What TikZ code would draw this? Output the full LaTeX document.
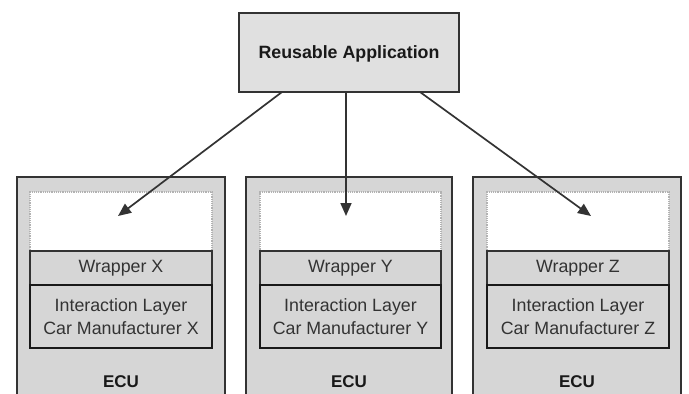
\documentclass[tikz,border=0pt]{standalone}
\usepackage{fontspec}
\setmainfont{Liberation Sans}
\usetikzlibrary{arrows.meta}
\definecolor{ecufill}{HTML}{D6D6D6}
\definecolor{topfill}{HTML}{E0E0E0}
\definecolor{edge}{HTML}{333333}
\tikzset{
  base/.style={rectangle, inner sep=0pt, outer sep=0pt, anchor=north},
  ecubox/.style={base, draw=edge, fill=ecufill, line width=2.2pt, minimum height=240pt},
  topbox/.style={base, draw=edge, fill=topfill, line width=2.6pt, minimum width=220pt, minimum height=79pt,
     font=\fontsize{17.8}{20}\selectfont\bfseries, text=black!90, text depth=1pt},
  slotbox/.style={base, draw=black!30, fill=white, densely dotted, line width=1.2pt, minimum height=59pt},
  wrapbox/.style={base, draw=edge, fill=ecufill, line width=1.6pt, minimum height=34pt,
     font=\fontsize{17.8}{20}\selectfont, text=black!80},
  ilbox/.style={base, draw=black!90, fill=ecufill, line width=2.3pt, minimum height=63pt, align=center,
     font=\fontsize{17.8}{23}\selectfont, text=black!80},
  ecutext/.style={font=\fontsize{17}{20}\selectfont\bfseries, text=black!90, inner sep=0pt},
  arr/.style={draw=edge, line width=1.7pt, -{Triangle[length=13pt,width=11pt]}}
}
\begin{document}
\begin{tikzpicture}[x=1pt,y=-1pt]
\useasboundingbox (0,0) rectangle (689,394);
\clip (0,0) rectangle (689,394);
\fill[white] (0,0) rectangle (689,394);
% ECU boxes
\node[ecubox, minimum width=208pt] (ecu1) at (121,177) {};
\node[ecubox, minimum width=206pt] (ecu2) at (349,177) {};
\node[ecubox, minimum width=208pt] (ecu3) at (577,177) {};
% slots
\node[slotbox, minimum width=182pt] (slot1) at (121,192) {};
\node[slotbox, minimum width=181pt] (slot2) at (350.5,192) {};
\node[slotbox, minimum width=182pt] (slot3) at (578,192) {};
% wrappers
\node[wrapbox, minimum width=182pt] (wrap1) at (121,251) {Wrapper X};
\node[wrapbox, minimum width=181pt] (wrap2) at (350.5,251) {Wrapper Y};
\node[wrapbox, minimum width=182pt] (wrap3) at (578,251) {Wrapper Z};
% interaction layers
\node[ilbox, minimum width=182pt] (il1) at (121,285) {Interaction Layer\\Car Manufacturer X};
\node[ilbox, minimum width=181pt] (il2) at (350.5,285) {Interaction Layer\\Car Manufacturer Y};
\node[ilbox, minimum width=182pt] (il3) at (578,285) {Interaction Layer\\Car Manufacturer Z};
% ECU labels
\node[ecutext] (e1) at (121,382) {ECU};
\node[ecutext] (e2) at (349,382) {ECU};
\node[ecutext] (e3) at (577,382) {ECU};
% top
\node[topbox] (top) at (349,13) {Reusable Application};
% arrow endpoints
\coordinate (s1) at (282,92);
\coordinate (s2) at (346,92);
\coordinate (s3) at (420,92);
\coordinate (t1) at (118,216);
\coordinate (t2) at (346,216);
\coordinate (t3) at (591,216);
\draw[arr] (s1) -- (t1);
\draw[arr] (s2) -- (t2);
\draw[arr] (s3) -- (t3);
\end{tikzpicture}
\end{document}
